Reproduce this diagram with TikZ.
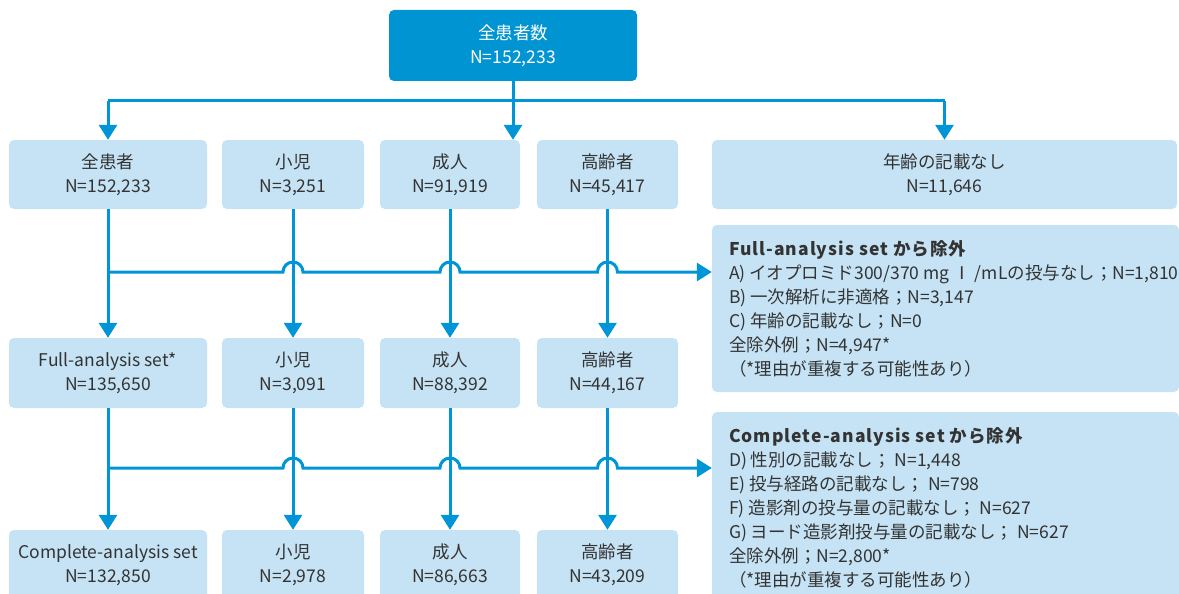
\documentclass[tikz,border=0pt]{standalone}
\usepackage{fontspec}
\setmainfont{Noto Sans CJK JP}
\usetikzlibrary{arrows.meta,calc}
\definecolor{dblue}{RGB}{0,148,210}
\definecolor{lblue}{RGB}{197,227,244}
\definecolor{lineblue}{RGB}{0,149,214}
\definecolor{txtgray}{RGB}{51,51,51}
\newcommand\myfs{\fontsize{17.5pt}{24pt}\selectfont}
\newcommand\extitle[1]{{\bfseries\addfontfeature{LetterSpace=6}#1}}
\begin{document}
\begin{tikzpicture}[x=1pt,y=-1pt,
  box/.style={fill=lblue, rounded corners=5pt, text=txtgray, align=center, inner sep=0pt, font=\myfs},
  topbox/.style={fill=dblue, rounded corners=5pt, text=white, align=center, inner sep=0pt, font=\myfs},
  conn/.style={draw=lineblue, line width=3pt},
  arr/.style={-{Triangle[width=18pt,length=15pt]}},
  exbox/.style={fill=lblue, rounded corners=5pt, inner sep=0pt},
  extext/.style={anchor=west, align=left, text=txtgray, inner sep=0pt, font=\myfs}]
\useasboundingbox (0,0) rectangle (1179,594);
\clip (0,0) rectangle (1179,594);
% top
\node[topbox, minimum width=248pt, minimum height=71pt] (top) at (513,45.5) {全患者数\\N=152,233};
% row 1
\node[box, minimum width=198pt, minimum height=69pt] (r1a) at (108,174.5) {全患者\\N=152,233};
\node[box, minimum width=142pt, minimum height=69pt] (r1b) at (293,174.5) {小児\\N=3,251};
\node[box, minimum width=140pt, minimum height=69pt] (r1c) at (450,174.5) {成人\\N=91,919};
\node[box, minimum width=141pt, minimum height=69pt] (r1d) at (607.5,174.5) {高齢者\\N=45,417};
\node[box, minimum width=465pt, minimum height=69pt] (r1e) at (944.5,174.5) {年齢の記載なし\\N=11,646};
% row 2
\node[box, minimum width=198pt, minimum height=70pt] (r2a) at (108,373) {Full-analysis set*\\N=135,650};
\node[box, minimum width=142pt, minimum height=70pt] (r2b) at (293,373) {小児\\N=3,091};
\node[box, minimum width=140pt, minimum height=70pt] (r2c) at (450,373) {成人\\N=88,392};
\node[box, minimum width=141pt, minimum height=70pt] (r2d) at (607.5,373) {高齢者\\N=44,167};
\node[exbox, minimum width=467pt, minimum height=167pt] (ex1) at (945.5,308.5) {};
\node[extext] (ex1t) at ([xshift=17pt]ex1.west) {\extitle{Full-analysis set から除外}\\
A) イオプロミド300/370 mg Ⅰ /mLの投与なし；N=1,810\\
B) 一次解析に非適格；N=3,147\\
C) 年齢の記載なし；N=0\\
全除外例；N=4,947*\\
（*理由が重複する可能性あり）};
% row 3
\node[box, minimum width=198pt, minimum height=70pt] (r3a) at (108,565) {Complete-analysis set\\N=132,850};
\node[box, minimum width=142pt, minimum height=70pt] (r3b) at (293,565) {小児\\N=2,978};
\node[box, minimum width=140pt, minimum height=70pt] (r3c) at (450,565) {成人\\N=86,663};
\node[box, minimum width=141pt, minimum height=70pt] (r3d) at (607.5,565) {高齢者\\N=43,209};
\node[exbox, minimum width=467pt, minimum height=191pt] (ex2) at (945.5,507.5) {};
\node[extext] (ex2t) at ([xshift=17pt]ex2.west) {\extitle{Complete-analysis set から除外}\\
D) 性別の記載なし； N=1,448\\
E) 投与経路の記載なし； N=798\\
F) 造影剤の投与量の記載なし； N=627\\
G) ヨード造影剤投与量の記載なし； N=627\\
全除外例；N=2,800*\\
（*理由が重複する可能性あり）};
% connectors
\coordinate (h0) at (0,101);
\coordinate (h1) at (0,272);
\coordinate (h2) at (0,468);
\draw[conn] (r1a.north|-h0) -- (r1e.north|-h0);
\draw[conn,arr] (top.south) -- (top.south|-r1c.north);
\draw[conn,arr] (r1a.north|-h0) -- (r1a.north);
\draw[conn,arr] (r1e.north|-h0) -- (r1e.north);
\foreach \a/\b in {r1a/r2a,r1b/r2b,r1c/r2c,r1d/r2d,r2a/r3a,r2b/r3b,r2c/r3c,r2d/r3d}
  \draw[conn,arr] (\a.south) -- (\b.north);
\draw[conn,arr] (r1a.south|-h1)
  -- ($(r1b.south|-h1)+(-10,0)$) arc[start angle=180,end angle=0,radius=10pt]
  -- ($(r1c.south|-h1)+(-10,0)$) arc[start angle=180,end angle=0,radius=10pt]
  -- ($(r1d.south|-h1)+(-10,0)$) arc[start angle=180,end angle=0,radius=10pt]
  -- (ex1.west|-h1);
\draw[conn,arr] (r2a.south|-h2)
  -- ($(r2b.south|-h2)+(-10,0)$) arc[start angle=180,end angle=0,radius=10pt]
  -- ($(r2c.south|-h2)+(-10,0)$) arc[start angle=180,end angle=0,radius=10pt]
  -- ($(r2d.south|-h2)+(-10,0)$) arc[start angle=180,end angle=0,radius=10pt]
  -- (ex2.west|-h2);
\end{tikzpicture}
\end{document}
